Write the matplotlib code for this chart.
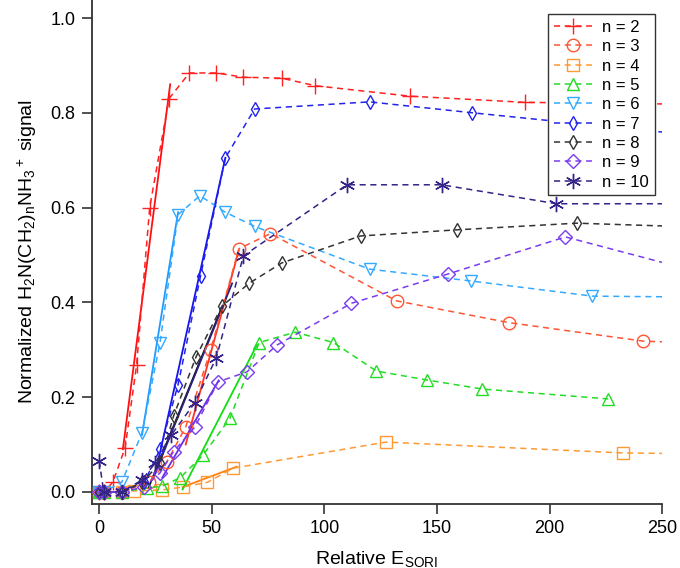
import matplotlib
matplotlib.use("Agg")
import matplotlib.pyplot as plt

plt.rcParams['font.family'] = ['Liberation Sans', 'DejaVu Sans']
plt.rcParams['mathtext.fontset'] = 'custom'
plt.rcParams['mathtext.rm'] = 'Liberation Sans'
plt.rcParams['mathtext.it'] = 'Liberation Sans:italic'

# ---- data ----
labels = ["n = 2", "n = 3", "n = 4", "n = 5", "n = 6", "n = 7", "n = 8", "n = 9", "n = 10"]

x2 = [0, 2, 6, 11.5, 16.6, 22.4, 31, 40, 52, 64, 81, 96, 138, 189, 280]
y2 = [0.0, 0.0, 0.02, 0.093, 0.268, 0.60, 0.83, 0.884, 0.884, 0.875, 0.873, 0.857, 0.835, 0.822, 0.817]

x3 = [0, 2, 10, 22, 30, 38.4, 49.5, 62, 76, 132, 182, 241.5, 290]
y3 = [0.0, 0.0, 0.0, 0.02, 0.063, 0.137, 0.30, 0.513, 0.545, 0.403, 0.357, 0.318, 0.31]

x4 = [0, 2, 10, 15.5, 28, 37, 48, 59.5, 127.3, 232.7, 290]
y4 = [0.0, 0.0, 0.0, 0.002, 0.004, 0.01, 0.02, 0.05, 0.105, 0.082, 0.079]

x5 = [0, 2, 10, 21, 28, 36, 46, 58, 71, 87, 104, 123, 145.5, 170, 226]
y5 = [0.0, 0.0, 0.0, 0.008, 0.012, 0.03, 0.077, 0.155, 0.315, 0.337, 0.315, 0.255, 0.236, 0.217, 0.196]

x6 = [0, 2, 10, 19, 27, 35, 44.7, 56, 69, 120, 165, 219, 290]
y6 = [0.0, 0.0, 0.02, 0.125, 0.315, 0.585, 0.625, 0.59, 0.56, 0.47, 0.445, 0.413, 0.41]

x7 = [0, 2, 10, 20, 27, 35, 45, 56, 69, 120, 165.6, 290]
y7 = [0.0, 0.0, 0.0, 0.02, 0.09, 0.226, 0.456, 0.705, 0.808, 0.823, 0.80, 0.74]

x8 = [0, 2, 10, 19, 27, 33, 43, 54.5, 66.5, 81, 116, 159, 212, 290]
y8 = [0.0, 0.0, 0.0, 0.02, 0.06, 0.16, 0.285, 0.392, 0.44, 0.483, 0.54, 0.553, 0.567, 0.555]

x9 = [0, 2, 10, 20, 27, 33, 42.5, 52.7, 65.5, 79, 112, 155, 207, 290]
y9 = [0.0, 0.0, 0.0, 0.01, 0.04, 0.085, 0.137, 0.232, 0.253, 0.31, 0.398, 0.46, 0.538, 0.434]

x10 = [0, 2, 10, 19, 24.7, 32, 42.4, 52, 64, 110, 152, 203, 290]
y10 = [0.065, 0.0, 0.0, 0.025, 0.06, 0.12, 0.188, 0.283, 0.498, 0.648, 0.648, 0.608, 0.608]

# linear fits of the rising parts (solid lines): [x_start, x_end], [y_start, y_end]
fit2_x, fit2_y = [10.5, 31.5], [0.09, 0.86]
fit3_x, fit3_y = [38.4, 62], [0.10, 0.51]
fit4_x, fit4_y = [37, 61], [0.01, 0.053]
fit5_x, fit5_y = [37, 70], [0.005, 0.31]
fit6_x, fit6_y = [19, 35], [0.12, 0.59]
fit7_x, fit7_y = [25, 56], [0.04, 0.705]
fit8_x, fit8_y = [22, 54.5], [0.01, 0.39]
fit9_x, fit9_y = [28, 53], [0.03, 0.235]
fit10_x, fit10_y = [24, 59], [0.03, 0.44]

xs = [x2, x3, x4, x5, x6, x7, x8, x9, x10]
ys = [y2, y3, y4, y5, y6, y7, y8, y9, y10]
fits = [(fit2_x, fit2_y), (fit3_x, fit3_y), (fit4_x, fit4_y), (fit5_x, fit5_y),
        (fit6_x, fit6_y), (fit7_x, fit7_y), (fit8_x, fit8_y), (fit9_x, fit9_y),
        (fit10_x, fit10_y)]

colors = ['#ff2020', '#ff5533', '#ff9933', '#22dd22', '#33aaff', '#2222ee', '#333333', '#7a3cf0', '#332288']
fitcolors = ['#ff1010', '#ff3322', '#ff7f10', '#11dd11', '#2299ff', '#1515ee', '#111111', '#6a2ce8', '#2a2080']
markers = ['+', 'o', 's', '^', 'v', 'd', 'd', 'D', (6, 2, 0)]
msizes = [11, 9, 8, 9, 9, 7, 7, 7, 11]

fig = plt.figure(figsize=(6.8, 5.68), dpi=100)
ax = fig.add_axes([0.135, 0.113, 0.839, 0.887])

for i in range(9):
    ax.plot(fits[i][0], fits[i][1], '-', color=fitcolors[i], lw=1.3, zorder=2)
for i in range(9):
    ax.plot(xs[i], ys[i], linestyle=(0, (4, 3)), color=colors[i], lw=1.1,
            marker=markers[i], ms=msizes[i], mfc='none', mec=colors[i], mew=1.0,
            label=labels[i], zorder=3)

ax.set_xlim(-3.3, 250)
ax.set_ylim(-0.0253, 1.038)
ax.set_xticks([0, 50, 100, 150, 200, 250])
ax.set_yticks([0.0, 0.2, 0.4, 0.6, 0.8, 1.0])
ax.set_yticklabels(['0.0', '0.2', '0.4', '0.6', '0.8', '1.0'])
for s in ['top', 'right']:
    ax.spines[s].set_visible(False)
for s in ['left', 'bottom']:
    ax.spines[s].set_linewidth(1.3)
    ax.spines[s].set_color('#333333')
ax.tick_params(direction='out', length=7, width=1.2, color='#333333', labelsize=13, pad=5)

ax.set_xlabel('Relative E$_{\\mathrm{SORI}}$', fontsize=14, labelpad=8)
ax.set_ylabel('Normalized H$_2$N(CH$_2$)$_\\mathrm{n}$NH$_3$$^+$ signal', fontsize=14, labelpad=8)

leg = ax.legend(loc='upper left', bbox_to_anchor=(0.800, 0.972), fontsize=12,
                frameon=True, fancybox=False, edgecolor='#333333', framealpha=1,
                handlelength=2.3, labelspacing=0.26, borderpad=0.35, handletextpad=0.6,
                borderaxespad=0)
leg.get_frame().set_linewidth(1.0)

fig.savefig('out.png', dpi=100)
